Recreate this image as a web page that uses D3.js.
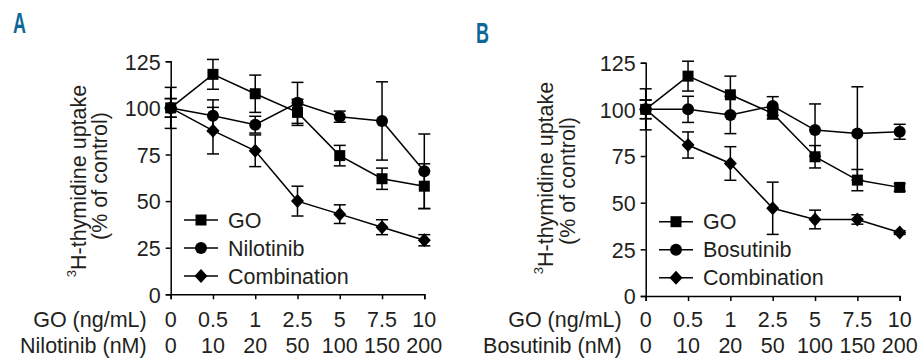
<!DOCTYPE html>
<html>
<head>
<meta charset="utf-8">
<script src="https://cdn.jsdelivr.net/npm/d3@7"></script>
<style>
  body { margin: 0; background: #fff; }
  svg text { font-family: "Liberation Sans", Arial, sans-serif; fill: #231f20; }
</style>
</head>
<body>
<svg id="chart" width="921" height="358"></svg>
<script>
// doses on the x axis
var goDose = ['0', '0.5', '1', '2.5', '5', '7.5', '10'];
var niloDose = ['0', '10', '20', '50', '100', '150', '200'];
var bosuDose = ['0', '10', '20', '50', '100', '150', '200'];
var yTicks = [0, 25, 50, 75, 100, 125];

// panel A : GO + nilotinib
var goA = [100, 118, 107.6, 97.6, 74.4, 62, 58];
var goAErr = [11, 8, 10, 7, 5.5, 5.7, 12];
var niloA = [100, 95.8, 91, 102.7, 95.3, 93, 66];
var niloAErr = [5, 8.5, 4.5, 11, 3, 21, 20];
var combA = [100, 87.8, 77, 50, 43, 36, 29];
var combAErr = [5, 12.5, 8.5, 8, 5, 4, 3];

// panel B : GO + bosutinib
var goB = [100, 117.8, 107.8, 97.8, 74.6, 62.1, 58.2];
var goBErr = [11, 8, 10, 3, 6, 5.7, 2];
var bosuB = [100, 100, 97, 101.8, 88.9, 87.1, 88];
var bosuBErr = [5, 7, 10, 5, 14, 25, 4];
var combB = [100, 80.9, 71, 47, 41, 41, 34];
var combBErr = [5, 7, 9, 14, 5, 2.5, 1];

var svg = d3.select('#chart');
var fs = 21.5;

function marker(g, shape, x, y) {
    if (shape == 'square') {
        g.append('rect').attr('x', x - 5.5).attr('y', y - 5.5)
            .attr('width', 11).attr('height', 11).attr('fill', '#000');
    } else if (shape == 'circle') {
        g.append('circle').attr('cx', x).attr('cy', y).attr('r', 6).attr('fill', '#000');
    } else {
        g.append('path')
            .attr('d', 'M' + x + ',' + (y - 7) + 'L' + (x + 6.5) + ',' + y + 'L' + x + ',' + (y + 7) + 'L' + (x - 6.5) + ',' + y + 'Z')
            .attr('fill', '#000');
    }
}

function drawPanel(p) {
    var g = svg.append('g');
    var x = d3.scalePoint().domain(d3.range(goDose.length)).range([p.x0, p.x1]);
    var y = d3.scaleLinear().domain([0, 125]).range([p.y0, p.y1]);

    // panel letter (condensed bold)
    g.append('text')
        .attr('transform', 'translate(' + p.letterX + ',' + p.letterY + ') scale(0.62,1)')
        .style('font-size', '29px').style('font-weight', 'bold').style('fill', '#0d6897')
        .text(p.letter);

    // axes
    var ya = g.append('g').attr('transform', 'translate(' + p.x0 + ',0)')
        .call(d3.axisLeft(y).tickValues(yTicks).tickSizeOuter(0).tickSize(5).tickPadding(5));
    var xa = g.append('g').attr('transform', 'translate(0,' + p.y0 + ')')
        .call(d3.axisBottom(x).tickSizeOuter(0).tickSize(5).tickFormat(''));
    [ya, xa].forEach(function(a) {
        a.selectAll('path, line').attr('stroke', '#000').attr('stroke-width', 1.5);
    });
    ya.selectAll('text').style('font-size', fs + 'px').style('font-family', null)
        .attr('fill', null).attr('dy', '0.36em');

    // x tick labels, two rows
    var rows = [{lab: 'GO (ng/mL)', vals: goDose, yb: 326.5},
                {lab: p.drug + ' (nM)', vals: p.drugDose, yb: 352.5}];
    rows.forEach(function(r) {
        g.append('text').attr('x', p.x0 - 24).attr('y', r.yb)
            .attr('text-anchor', 'end').style('font-size', fs + 'px')
            .text(r.lab);
        g.selectAll(null).data(r.vals).enter().append('text')
            .attr('x', function(d, i) { return x(i); })
            .attr('y', r.yb).attr('text-anchor', 'middle')
            .style('font-size', fs + 'px')
            .text(function(d) { return d; });
    });

    // y title
    var t1 = g.append('text').attr('text-anchor', 'middle')
        .attr('transform', 'translate(' + p.t1x + ',' + p.t1y + ') rotate(-90)')
        .style('font-size', fs + 'px');
    t1.append('tspan').attr('dy', '-0.45em').style('font-size', '13px').text('3');
    t1.append('tspan').attr('dy', '0.45em').text('H-thymidine uptake');
    g.append('text').attr('text-anchor', 'middle')
        .attr('transform', 'translate(' + p.t2x + ',' + p.t2y + ') rotate(-90)')
        .style('font-size', fs + 'px')
        .text('(% of control)');

    var line = d3.line().x(function(d, i) { return x(i); }).y(function(d) { return y(d); });

    // error bars
    p.series.forEach(function(s) {
        var eb = g.append('g');
        s.values.forEach(function(v, i) {
            var e = s.err[i], cx = x(i);
            eb.append('line').attr('x1', cx).attr('x2', cx).attr('y1', y(v - e)).attr('y2', y(v + e));
            [v - e, v + e].forEach(function(w) {
                eb.append('line').attr('x1', cx - 6).attr('x2', cx + 6).attr('y1', y(w)).attr('y2', y(w));
            });
        });
        eb.selectAll('line').attr('stroke', '#000').attr('stroke-width', 1.5);
    });

    // lines and markers
    p.series.forEach(function(s) {
        g.append('path').datum(s.values).attr('d', line)
            .attr('fill', 'none').attr('stroke', '#000').attr('stroke-width', 1.5);
    });
    p.series.forEach(function(s) {
        s.values.forEach(function(v, i) { marker(g, s.shape, x(i), y(v)); });
    });

    // legend
    p.series.forEach(function(s, i) {
        var ly = p.legY + i * 28;
        g.append('line').attr('x1', p.legX).attr('x2', p.legX + 34).attr('y1', ly).attr('y2', ly)
            .attr('stroke', '#000').attr('stroke-width', 1.5);
        marker(g, s.shape, p.legX + 17, ly);
        g.append('text').attr('x', p.legX + 44).attr('y', ly).attr('dy', '0.36em')
            .style('font-size', fs + 'px')
            .text(s.name);
    });
}

drawPanel({
    letter: 'A', letterX: 13, letterY: 33,
    x0: 170.7, x1: 424.3, y0: 294.3, y1: 61.3,
    drug: 'Nilotinib', drugDose: niloDose,
    t1x: 82, t1y: 181, t2x: 107, t2y: 176,
    legX: 184, legY: 220,
    series: [
        {name: 'GO', shape: 'square', values: goA, err: goAErr},
        {name: 'Nilotinib', shape: 'circle', values: niloA, err: niloAErr},
        {name: 'Combination', shape: 'diamond', values: combA, err: combAErr}
    ]
});

drawPanel({
    letter: 'B', letterX: 476, letterY: 43,
    x0: 645.7, x1: 899.7, y0: 296, y1: 62.7,
    drug: 'Bosutinib', drugDose: bosuDose,
    t1x: 549, t1y: 178, t2x: 575, t2y: 181,
    legX: 659, legY: 221.7,
    series: [
        {name: 'GO', shape: 'square', values: goB, err: goBErr},
        {name: 'Bosutinib', shape: 'circle', values: bosuB, err: bosuBErr},
        {name: 'Combination', shape: 'diamond', values: combB, err: combBErr}
    ]
});
</script>
</body>
</html>
